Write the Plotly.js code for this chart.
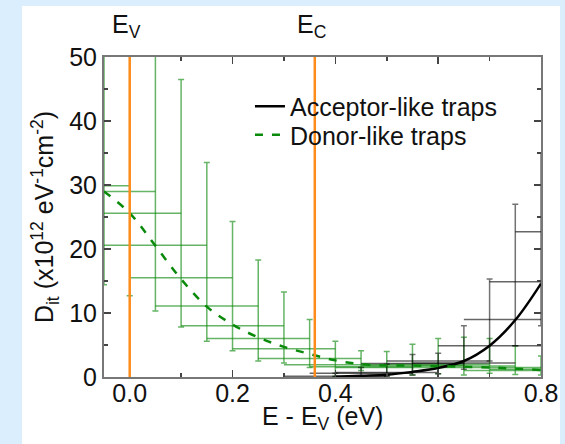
<!DOCTYPE html>
<html>
<head>
<meta charset="utf-8">
<script src="https://cdn.plot.ly/plotly-3.0.1.min.js"></script>
<style>
  html, body { margin: 0; padding: 0; width: 565px; height: 444px; background: #dbeefd; overflow: hidden; }
  #plot { position: absolute; left: 22px; top: 6px; width: 538px; height: 438px; }
</style>
</head>
<body>
<div id="plot"></div>
<script>
// Donor-like trap data (green crosses)
const donorX    = [-0.10, -0.05, 0.00, 0.05, 0.10, 0.15, 0.20, 0.25, 0.30, 0.35, 0.40, 0.45, 0.50, 0.55, 0.60, 0.65, 0.70, 0.75, 0.80];
const donorY    = [29.9, 29.0, 25.6, 20.6, 15.5, 11.1, 8.0, 6.0, 4.4, 2.9, 1.9, 1.6, 1.5, 1.8, 2.0, 1.7, 1.5, 1.0, 1.2];
const donorLow  = [15.0, 14.4, 12.7, 10.3, 7.8, 5.6, 4.1, 2.5, 2.2, 1.5, 0.1, 1.0, 0.2, 0.3, 0.5, 0.3, 0.6, 0.4, 0.3];
const donorHigh = [60.0, 60.0, 60.0, 55.0, 46.5, 33.5, 24.3, 18.3, 13.3, 9.0, 5.6, 4.1, 4.0, 5.1, 6.0, 6.2, 6.0, 4.9, 3.3];
const donorHalfWidth = [0.1, 0.1, 0.1, 0.1, 0.1, 0.1, 0.1, 0.1, 0.1, 0.1, 0.1, 0.1, 0.1, 0.1, 0.1, 0.1, 0.1, 0.1, 0.1];

// Acceptor-like trap data (black crosses)
const accX    = [0.40, 0.45, 0.50, 0.55, 0.60, 0.65, 0.70, 0.75, 0.80, 0.85];
const accY    = [0.1, 0.6, 0.7, 2.1, 2.5, 2.2, 4.9, 9.0, 14.9, 22.7];
const accLow  = [0.0, 0.1, 0.1, 0.3, 0.5, 1.2, 2.5, 4.9, 8.0, 12.0];
const accHigh = [0.6, 1.5, 2.0, 3.5, 3.7, 8.0, 15.3, 27.0, 35.0, 45.0];
const accHalfWidth = [0.1, 0.1, 0.1, 0.1, 0.1, 0.1, 0.1, 0.1, 0.1, 0.1];

// Fitted curves
const donorFitX = [-0.05, 0.00, 0.05, 0.10, 0.15, 0.20, 0.25, 0.30, 0.35, 0.40, 0.45, 0.50, 0.55, 0.60, 0.65, 0.70, 0.75, 0.80];
const donorFitY = [29.0, 25.6, 20.5, 15.3, 11.0, 8.2, 6.2, 4.7, 3.6, 2.6, 2.0, 1.8, 1.8, 1.7, 1.6, 1.5, 1.3, 1.1];
const accFitX = [0.40, 0.45, 0.50, 0.55, 0.60, 0.65, 0.70, 0.75, 0.80];
const accFitY = [0.05, 0.2, 0.35, 0.8, 1.4, 2.5, 4.9, 8.9, 14.6];

// Band edges
const bandEdgeX = [0.0, 0.36];
const bandEdgeLabels = ['E<sub>V</sub>', 'E<sub>C</sub>'];

const seriesNames = ['Acceptor-like traps', 'Donor-like traps'];
const xTitle = 'E - E<sub>V</sub> (eV)';
const yTitle = 'D<sub>it</sub> (x10<sup>12</sup> eV<sup>-1</sup>cm<sup>-2</sup>)';

function diff(a, b) { return a.map((v, i) => v - b[i]); }

const font = 'Liberation Sans, Arial, sans-serif';
const FS = 25;

const traces = [
  {
    x: donorX, y: donorY, type: 'scatter', mode: 'markers', showlegend: false,
    marker: {size: 1, color: 'rgba(0,0,0,0)'},
    error_x: {type: 'data', symmetric: true, array: donorHalfWidth, width: 0, thickness: 1.5, color: 'rgba(20,140,20,0.65)'},
    error_y: {type: 'data', symmetric: false, array: diff(donorHigh, donorY), arrayminus: diff(donorY, donorLow), width: 3, thickness: 1.5, color: 'rgba(20,140,20,0.65)'},
    hoverinfo: 'skip'
  },
  {
    x: accX, y: accY, type: 'scatter', mode: 'markers', showlegend: false,
    marker: {size: 1, color: 'rgba(0,0,0,0)'},
    error_x: {type: 'data', symmetric: true, array: accHalfWidth, width: 0, thickness: 1.5, color: 'rgba(0,0,0,0.6)'},
    error_y: {type: 'data', symmetric: false, array: diff(accHigh, accY), arrayminus: diff(accY, accLow), width: 3, thickness: 1.5, color: 'rgba(0,0,0,0.55)'},
    hoverinfo: 'skip'
  },
  {
    x: accFitX, y: accFitY, type: 'scatter', mode: 'lines', name: seriesNames[0], legend: 'legend',
    line: {color: '#000000', width: 2.5, shape: 'spline'}
  },
  {
    x: donorFitX, y: donorFitY, type: 'scatter', mode: 'lines', name: seriesNames[1], legend: 'legend2',
    line: {color: '#0a8a0a', width: 2.5, dash: '8px,9px', shape: 'spline'}
  }
];

const shapes = bandEdgeX.map(x => ({
  type: 'line', xref: 'x', yref: 'paper', x0: x, x1: x, y0: 0, y1: 1,
  line: {color: '#ff8c1a', width: 2.5}, layer: 'above'
}));

const annotations = bandEdgeX.map((x, i) => ({
  x: x, xref: 'x', y: 1, yref: 'paper', yanchor: 'bottom', xanchor: 'center',
  text: bandEdgeLabels[i], showarrow: false, yshift: 13, xshift: -3,
  font: {family: font, size: FS, color: '#111'}
}));
annotations.push({
  x: 0.5, xref: 'paper', y: 0, yref: 'paper', xanchor: 'center', yanchor: 'middle',
  text: xTitle, showarrow: false, yshift: -41,
  font: {family: font, size: FS, color: '#111'}
});

const axisCommon = {
  showgrid: false, zeroline: false, showline: true, linecolor: '#777', linewidth: 2,
  mirror: 'allticks', ticks: 'inside', ticklen: 7, tickwidth: 1.5, tickcolor: '#444',
  tickfont: {family: font, size: FS, color: '#111'}
};

const legendCommon = {
  xanchor: 'left', yanchor: 'middle', bgcolor: 'rgba(0,0,0,0)',
  font: {family: font, size: FS, color: '#111'}
};

const layout = {
  width: 538, height: 438,
  margin: {l: 82, r: 19, t: 51, b: 67},
  paper_bgcolor: '#ffffff', plot_bgcolor: '#ffffff',
  font: {family: font, color: '#111'},
  xaxis: Object.assign({}, axisCommon, {
    range: [-0.05, 0.8], dtick: 0.2, tick0: 0, tickformat: '.1f', ticklabelstandoff: -7,
    minor: {dtick: 0.1, ticks: 'inside', ticklen: 4, tickcolor: '#444'}
  }),
  yaxis: Object.assign({}, axisCommon, {
    range: [0, 50], dtick: 10,
    minor: {dtick: 5, ticks: 'inside', ticklen: 4, tickcolor: '#444'},
    title: {text: yTitle, font: {family: font, size: FS, color: '#111'}, standoff: 8}
  }),
  legend: Object.assign({}, legendCommon, {x: 0.334, y: 0.845}),
  legend2: Object.assign({}, legendCommon, {x: 0.334, y: 0.756}),
  shapes: shapes,
  annotations: annotations
};

Plotly.newPlot('plot', traces, layout, {staticPlot: true, displayModeBar: false});
</script>
</body>
</html>
